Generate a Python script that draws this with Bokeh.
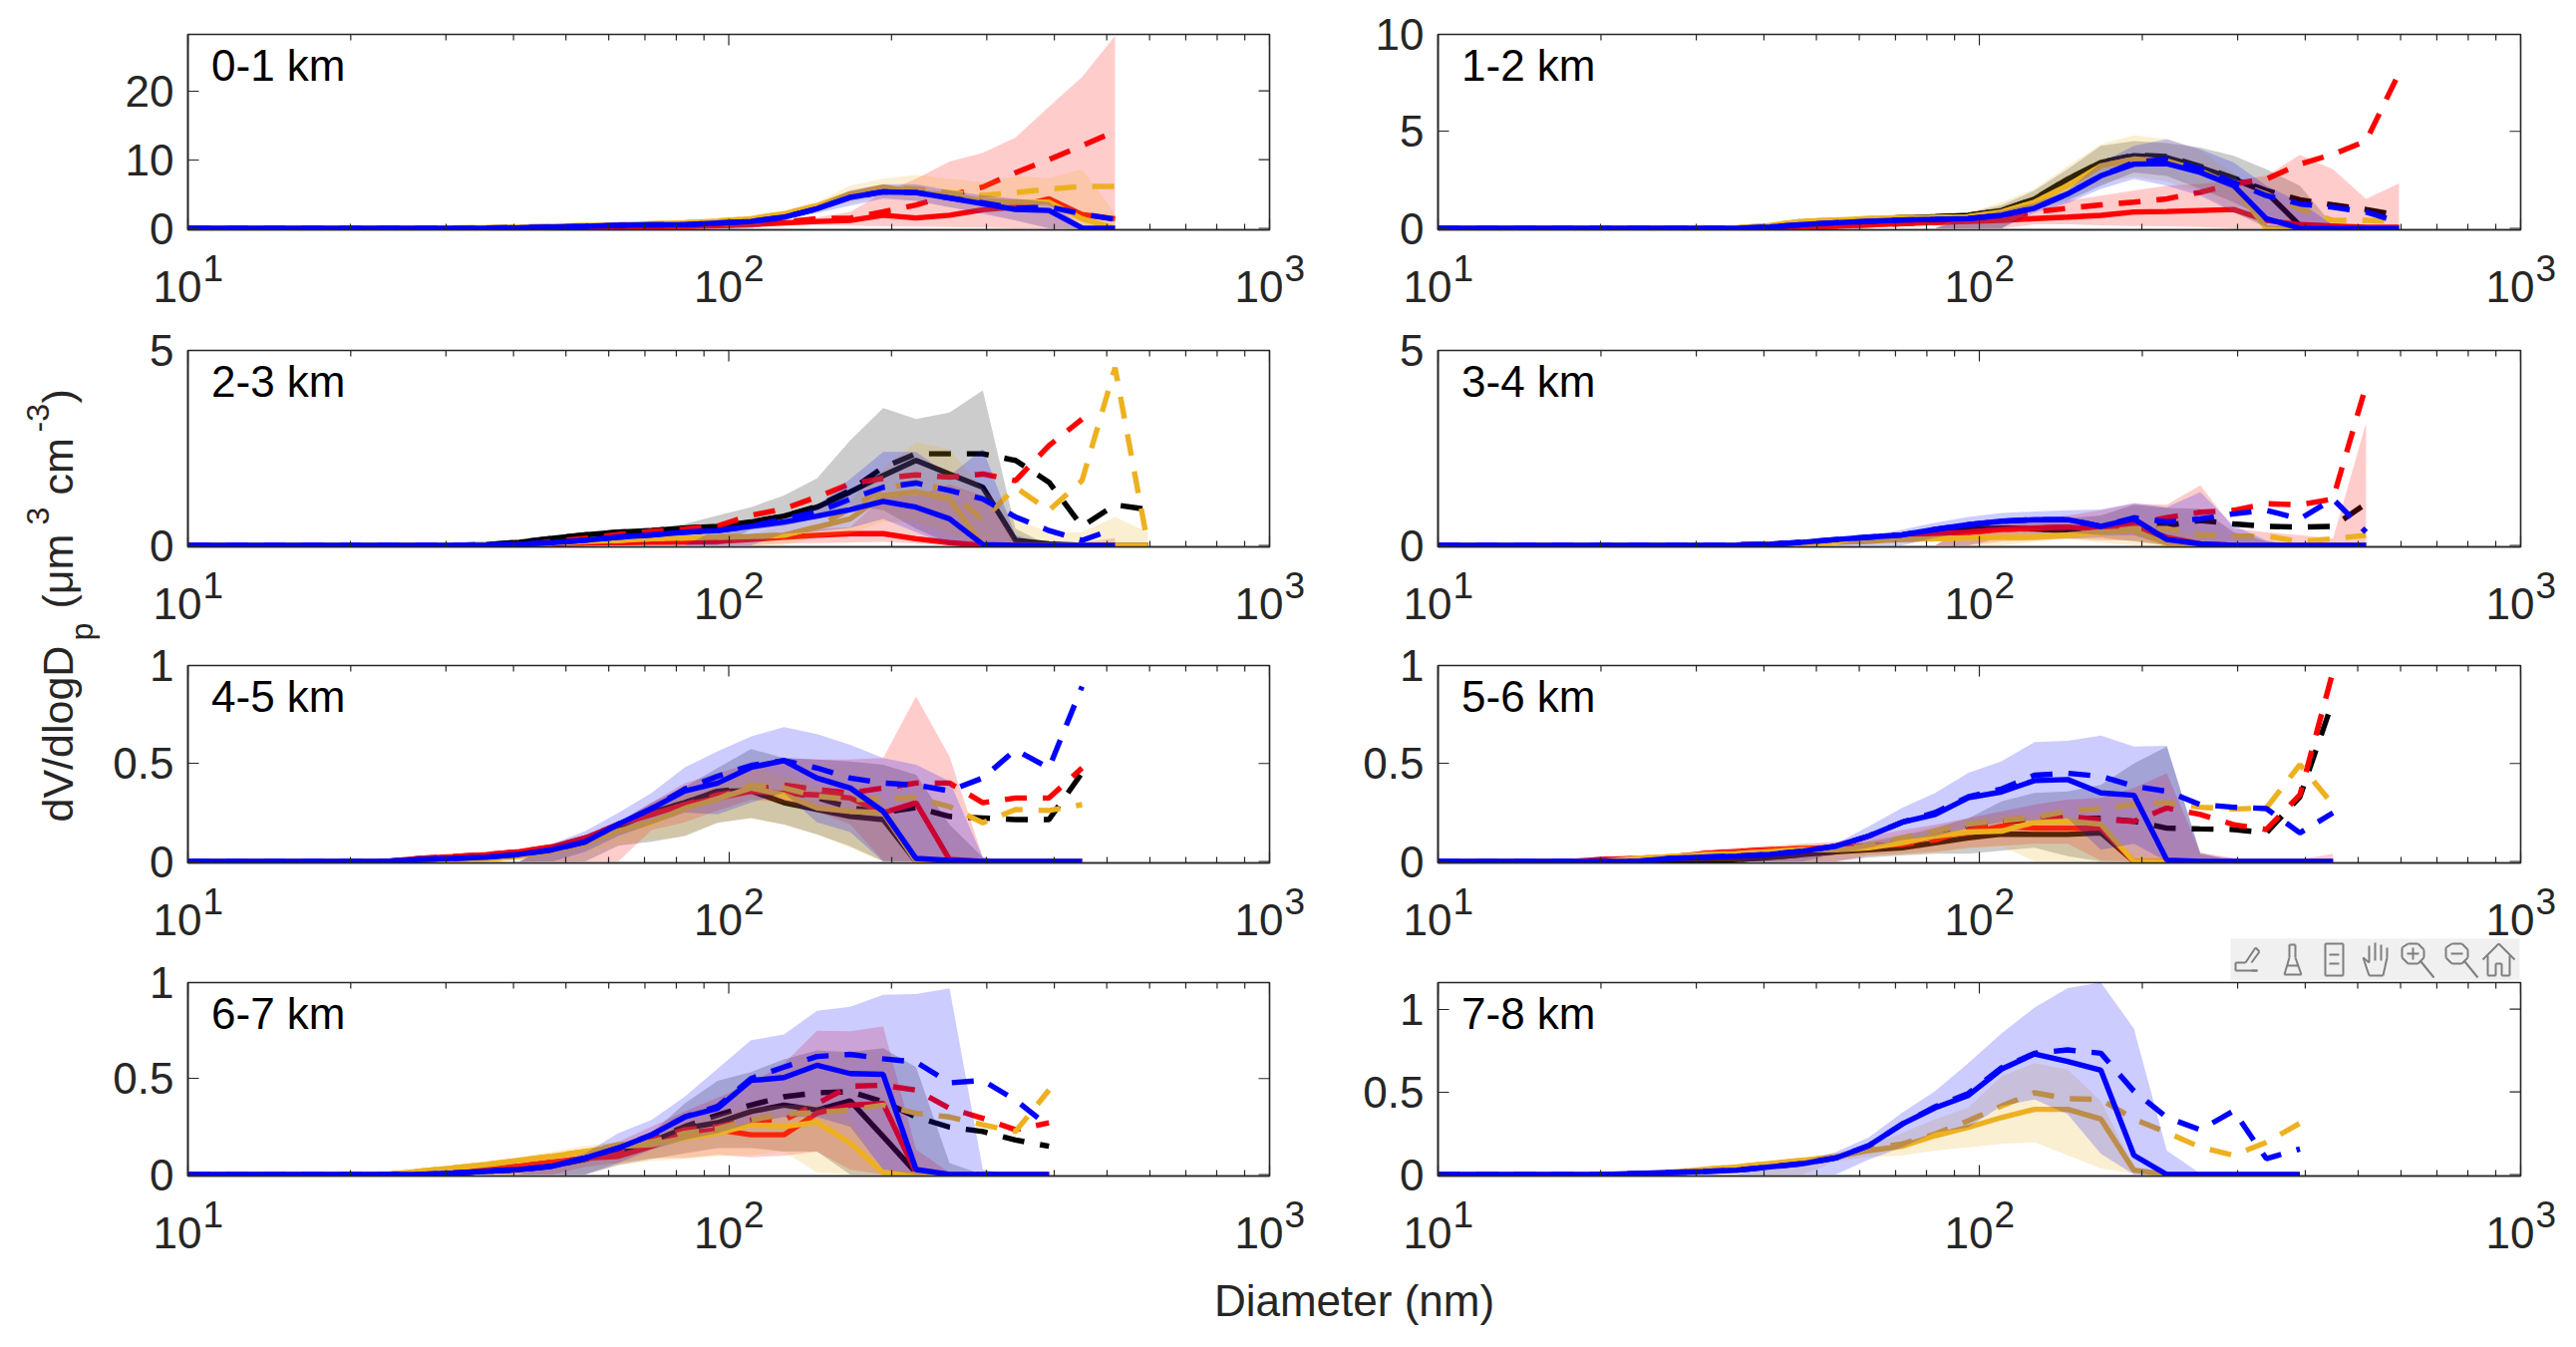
import math
from bokeh.plotting import figure
from bokeh.layouts import row, column
from bokeh.models import Label, FixedTicker, Range1d
from bokeh.core.properties import value
from bokeh.embed import file_html
from bokeh.resources import INLINE

# Diameter bins (nm)
D = [10, 11.5, 13.2, 15.2, 17.6, 20.2, 23.3, 26.8, 30.9, 35.6, 41, 47.2, 54.3, 62.5, 72,
     82.9, 95.4, 109.9, 126.5, 145.6, 167.7, 193, 222, 256, 295, 339, 391, 450, 518, 596]
X_MAJOR = [10, 100, 1000]
X_EXP = ["1", "2", "3"]
X_MINOR = [20, 30, 40, 50, 60, 70, 80, 90, 200, 300, 400, 500, 600, 700, 800, 900]

# each series: (index of the first listed bin, values); unlisted bins read 0
# ---- 0-1 km
a_blue_s = (9, [.03, .08, .2, .3, .43, .5, .53, .77, 1, 1.63, 2.84, 4.5, 5.3, 5.2, 4.4, 3.56, 2.74, 2.6, .05, 0])
a_blue_d = (9, [.03, .08, .2, .3, .43, .5, .53, .77, 1, 1.63, 2.84, 4.5, 5.3, 5.2, 4.4, 3.7, 2.9, 3.1, 2.1, 1.3])
a_blue_h = (17, [1.1, 2, 3.3, 5.5, 6.4, 6.4, 5.5, 4.8, 4.3, 3.8, .4, 0])
a_blue_l = (18, [1.2, 2.2, 3.3, 4.3, 4, 3.1, 2.1, 1.15, 0, 0, 0])
a_red_s = (13, [.1, .2, .3, .4, .53, .8, 1, 1.15, 1.9, 1.5, 1.9, 2.7, 3.1, 4.3, 2, 1.4])
a_red_d = (13, [.1, .2, .3, .45, .6, .9, 1.4, 1.5, 2.4, 3.4, 4.8, 6, 8.1, 10, 12, 14.1])
a_red_h = (17, [.7, 1.1, 1.6, 2.4, 5.2, 7.2, 9.7, 11, 13.2, 17.7, 22, 28])
a_red_l = (17, [.3, .4, .5, .4, .3, .25, .2, .1, 0, 0, 0, 0])
a_amb_s = (8, [.05, .1, .2, .3, .4, .5, .65, .8, 1.05, 1.4, 2.1, 3.3, 5, 6, 5.3, 4.8, 4, 3.8, 3.8, 1.4, 0])
a_amb_d = (8, [.05, .1, .2, .3, .4, .5, .65, .8, 1.05, 1.4, 2.1, 3.3, 5, 5.9, 5.7, 5.2, 4.8, 5.2, 5.7, 6.1, 6.1])
a_amb_h = (17, [1.6, 2.6, 3.8, 6.2, 7.2, 7.8, 7.2, 6.7, 7.6, 7.3, 8.6, 2.1])
a_amb_l = (18, [1.6, 2.8, 3.8, 4.5, 4, 3.1, 2.4, 1.15, 0, 0, 0])
# ---- 1-2 km
b_blk_s = (9, [.02, .1, .25, .36, .45, .55, .6, .67, .92, 1.52, 2.54, 3.4, 3.74, 3.65, 3.14, 2.54, 1.86, .15, 0, 0, 0])
b_blk_d = (9, [.02, .1, .25, .36, .45, .55, .6, .67, .92, 1.52, 2.54, 3.4, 3.78, 3.7, 3.2, 2.6, 1.95, 1.47, 1.21, .97, .67])
b_blk_h = (16, [.8, 1.2, 1.95, 3.05, 4.25, 4.5, 4.4, 4.16, 3.74, 3.05, 2.2, .15, 0, 0])
b_blk_l = (18, [1.0, 1.43, 2.2, 2.88, 2.7, 2.03, 1.35, .5, 0, 0, 0, 0])
b_red_s = (10, [.03, .07, .12, .18, .24, .3, .36, .41, .5, .58, .67, .84, .87, .92, .97, .41, .19, .12, .05, .05])
b_red_d = (10, [.03, .07, .12, .18, .24, .3, .38, .55, .84, 1.04, 1.21, 1.35, 1.52, 1.86, 2.29, 2.54, 3.31, 3.82, 4.5, 8.0])
b_red_h = (16, [.5, .7, 1.0, 1.43, 1.69, 1.95, 2.2, 2.29, 2.46, 2.71, 3.79, 3.05, 1.52, 2.32])
b_red_l = (18, [.2, .2, .15, .12, .1, .07, 0, 0, 0, 0, 0, 0])
b_amb_s = (9, [.03, .15, .36, .43, .5, .55, .55, .6, .84, 1.35, 2.2, 3.22, 3.57, 3.48, 2.97, 2.2, 0, 0, 0, 0, 0])
b_amb_d = (9, [.03, .15, .36, .43, .5, .55, .55, .6, .84, 1.35, 2.2, 3.22, 3.57, 3.48, 2.97, 2.37, 1.77, 1.0, .41, .41, .36])
b_amb_h = (16, [.8, 1.35, 2.03, 3.22, 4.33, 4.8, 4.6, 4.0, 2.88, .05, 0, 0, 0, 0])
b_amb_l = (18, [1.0, 1.69, 2.37, 2.66, 2.4, 1.86, .84, 0, 0, 0, 0, 0])
b_blue_s = (10, [.07, .19, .29, .36, .43, .46, .5, .67, 1.04, 1.77, 2.71, 3.31, 3.34, 2.88, 2.2, .5, 0, 0, 0, 0])
b_blue_d = (10, [.07, .19, .29, .36, .43, .46, .5, .67, 1.04, 1.77, 2.71, 3.4, 3.57, 3.05, 2.37, 1.69, 1.26, 1.09, .84, .32])
b_blue_h = (16, [.6, .9, 1.3, 1.95, 3.4, 4.25, 4.6, 4.08, 3.4, 2.2, 1.35, .15, 0, 0])
b_blue_l = (18, [.8, 1.3, 2.03, 2.54, 2.2, 1.69, .84, .07, 0, 0, 0, 0])
# ---- 2-3 km
c_blk_s = (9, [.02, .08, .18, .27, .34, .38, .44, .49, .6, .75, .98, 1.37, 1.79, 2.18, 1.83, 1.49, .13, .04, 0, 0, 0])
c_blk_d = (9, [.02, .08, .18, .27, .34, .38, .44, .49, .6, .75, 1.0, 1.41, 2.0, 2.35, 2.35, 2.35, 2.18, 1.62, .49, 1.04, .92])
c_blk_h = (11, [.1, .18, .3, .42, .55, .77, .98, 1.28, 1.72, 2.69, 3.52, 3.24, 3.41, 3.98, .43, 0, 0, 0, 0])
c_blk_l = (17, [.4, .5, .7, 1.02, .9, .43, .05, 0, 0, 0, 0, 0, 0])
c_red_s = (10, [.02, .04, .06, .07, .08, .09, .1, .15, .21, .26, .3, .3, .17, .07, 0, 0, 0, 0, 0])
c_red_d = (11, [.1, .18, .28, .36, .42, .5, .77, .94, 1.24, 1.58, 1.72, 1.81, 1.75, 1.83, 1.66, 2.56, 3.24])
c_red_h = (15, [.1, .15, .2, .34, .43, .47, 1.24, 1.28, 1.56, 1.28, .13, .07, .07, .19])
c_red_l = (18, [.05, .06, .07, .09, .05, 0, 0, 0, 0, 0, 0])
c_amb_s = (11, [.06, .1, .13, .17, .19, .21, .23, .26, .47, .68, 1.28, 1.37, 1.19, 0, 0, 0, 0, 0, 0])
c_amb_d = (11, [.06, .1, .13, .17, .19, .21, .23, .26, .47, .94, 1.45, 1.62, 1.41, .64, 1.49, .9, 1.66, 4.56, 0])
c_amb_h = (17, [.3, .5, .85, 1.15, 1.96, 2.65, 2.46, 1.45, .68, .34, .34, .73, .34])
c_amb_l = (19, [.2, .3, .6, .6, .3, 0, 0, 0, 0, 0, 0])
c_blue_s = (9, [.01, .03, .07, .13, .21, .27, .34, .38, .49, .6, .75, .92, 1.13, .98, .68, .02, 0, 0, 0, 0])
c_blue_d = (9, [.01, .03, .07, .13, .21, .27, .34, .38, .49, .68, .85, 1.19, 1.49, 1.6, 1.41, 1.19, .73, .38, .13, .43])
c_blue_h = (16, [.42, .55, .7, 1.02, 1.7, 2.4, 2.4, 1.79, 2.47, .26, 0, 0, 0])
c_blue_l = (18, [.3, .35, .45, .68, .34, 0, 0, 0, 0, 0, 0])
# ---- 3-4 km
d_blk_s = (9, [.01, .03, .07, .13, .2, .26, .33, .41, .44, .42, .38, .38, .47, .13, 0, 0, 0, 0, 0, 0])
d_blk_d = (9, [.01, .03, .07, .13, .2, .26, .33, .41, .44, .42, .38, .38, .47, .51, .64, .55, .49, .47, .49, 1.07])
d_blk_h = (16, [.5, .6, .66, .7, .77, 1.04, .96, .94, .34, .1, 0, 0, 0, .2])
d_blk_l = (17, [.2, .17, .17, .2, .1, 0, 0, 0, 0, 0, 0, 0])
d_red_s = (9, [.01, .03, .07, .13, .2, .26, .3, .34, .41, .44, .47, .41, .51, .21, .04, 0, 0, 0, 0, 0])
d_red_d = (9, [.01, .03, .07, .13, .2, .26, .3, .34, .41, .44, .47, .41, .55, .71, .85, .9, 1.07, 1.04, 1.19, 4.1])
d_red_h = (16, [.5, .6, .65, .77, .9, 1.07, 1.04, 1.54, .43, .34, .26, .17, 3.14])
d_red_l = (17, [.1, .13, .17, .13, .13, 0, 0, 0, 0, 0, 0, 0])
d_amb_s = (9, [.01, .02, .05, .08, .11, .15, .17, .19, .21, .21, .27, .34, .38, .04, 0, 0, 0, 0, 0, 0])
d_amb_d = (9, [.01, .02, .05, .08, .11, .15, .17, .19, .21, .21, .27, .34, .43, .43, .27, .24, .24, .1, .17, .26])
d_amb_h = (17, [.25, .3, .34, .43, .55, .51, .16, 0, 0, 0, 0, 0])
d_amb_l = (18, [.09, .17, .07, 0, 0, 0, 0, 0, 0, 0, 0])
d_blue_s = (9, [.01, .03, .08, .15, .21, .27, .41, .53, .62, .66, .66, .49, .68, .15, .04, 0, 0, 0, 0, 0])
d_blue_d = (9, [.01, .03, .08, .15, .21, .27, .41, .53, .62, .66, .66, .49, .71, .6, .68, .81, .9, .68, 1.19, .34])
d_blue_h = (13, [.25, .4, .58, .73, .83, .87, .9, .92, 1.09, .98, 1.37, .51, .13, 0, 0, 0])
d_blue_l = (15, [.2, .34, .43, .43, .34, .26, .26, 0, 0, 0, 0, 0, 0, 0])
# ---- 4-5 km
e_blk_s = (8, [.01, .02, .04, .06, .1, .18, .25, .3, .358, .36, .3, .265, .23, .214, 0, 0, 0, 0, 0, 0])
e_blk_d = (8, [.01, .02, .04, .06, .1, .18, .25, .3, .358, .375, .36, .325, .275, .25, .275, .23, .222, .214, .214, .452])
e_blk_h = (11, [.07, .12, .2, .3, .38, .477, .574, .528, .52, .51, .494, .443, .188, .02, 0, 0, 0])
e_blk_l = (13, [.08, .1, .13, .197, .222, .188, .137, .078, 0, 0, 0, 0, 0, 0, 0])
e_red_s = (7, [.015, .025, .035, .05, .075, .12, .19, .24, .29, .324, .358, .346, .34, .324, .248, .3, .01, 0, 0, 0, 0])
e_red_d = (7, [.015, .025, .035, .05, .075, .12, .19, .24, .29, .34, .366, .39, .366, .35, .375, .40, .40, .3, .324, .324, .477])
e_red_h = (11, [.08, .13, .2, .3, .4, .45, .5, .528, .52, .52, .528, .842, .536, .02, 0, 0, 0])
e_red_l = (14, [.16, .2, .26, .316, .3, .256, .19, .005, 0, 0, 0, 0, 0, 0])
e_amb_s = (9, [.012, .025, .05, .09, .155, .2, .27, .32, .375, .34, .273, .256, .248, 0, 0, 0, 0, 0, 0])
e_amb_d = (9, [.012, .025, .05, .09, .155, .2, .27, .32, .39, .375, .333, .316, .32, .325, .28, .197, .265, .26, .29])
e_amb_h = (11, [.06, .11, .2, .28, .35, .42, .48, .44, .38, .35, .33, .01, 0, 0, 0, 0, 0])
e_amb_l = (12, [.05, .09, .11, .13, .2, .22, .19, .14, .07, 0, 0, 0, 0, 0, 0, 0])
e_blue_s = (7, [.01, .015, .022, .036, .06, .10, .19, .27, .36, .40, .48, .515, .426, .375, .256, .015, .005, 0, 0, 0, 0])
e_blue_d = (7, [.01, .015, .022, .036, .06, .10, .19, .27, .37, .435, .49, .515, .477, .426, .40, .39, .36, .426, .57, .477, .893])
e_blue_h = (11, [.09, .155, .248, .35, .48, .562, .638, .686, .65, .596, .528, .494, .41, .02, 0, 0, 0])
e_blue_l = (12, [.05, .13, .19, .25, .24, .30, .35, .2, .15, 0, 0, 0, 0, 0, 0, 0])
# ---- 5-6 km
f_blk_s = (9, [.01, .02, .035, .05, .06, .07, .095, .12, .14, .138, .138, .146, 0, 0, 0, 0, 0, 0, 0])
f_blk_d = (9, [.01, .02, .035, .05, .07, .1, .13, .17, .2, .215, .22, .22, .205, .17, .166, .163, .146, .33, .82])
f_blk_h = (9, [.02, .04, .06, .08, .1, .13, .17, .22, .307, .35, .358, .39, .5, .587, .044, 0, 0, 0, 0])
f_blk_l = (13, [.02, .03, .04, .04, .055, .07, .027, 0, 0, 0, 0, 0, 0, 0, 0])
f_red_s = (5, [.01, .015, .022, .04, .05, .06, .066, .07, .078, .087, .13, .146, .18, .17, .17, .17, 0, 0, 0, 0, 0, 0, 0])
f_red_d = (5, [.01, .015, .022, .04, .05, .06, .066, .07, .078, .087, .11, .16, .205, .22, .23, .214, .205, .273, .24, .188, .163, .34, .97])
f_red_h = (8, [.06, .07, .08, .09, .10, .13, .16, .188, .222, .256, .29, .315, .324, .375, .45, .044, .018, .01, .01, .04])
f_red_l = (13, [.03, .04, .05, .07, .08, .09, .09, .005, 0, 0, 0, 0, 0, 0, 0])
f_amb_s = (6, [.015, .025, .035, .04, .05, .06, .06, .07, .095, .13, .15, .155, .2, .205, .19, 0, 0, 0, 0, 0, 0, 0])
f_amb_d = (6, [.015, .025, .035, .04, .05, .06, .06, .08, .12, .155, .19, .21, .226, .256, .27, .29, .3, .277, .268, .273, .494, .29])
f_amb_h = (6, [.02, .03, .05, .06, .07, .09, .09, .11, .14, .18, .222, .24, .24, .23, .205, 0, 0, 0, 0, 0, 0, 0])
f_amb_l = (12, [.03, .03, .035, .044, .065, .078, 0, 0, 0, 0, 0, 0, 0, 0, 0, 0])
f_blue_s = (7, [.015, .022, .027, .036, .053, .078, .13, .2, .24, .325, .355, .413, .418, .35, .338, .007, 0, 0, 0, 0, 0])
f_blue_d = (7, [.015, .022, .027, .036, .053, .078, .13, .2, .25, .33, .37, .44, .45, .435, .384, .358, .29, .277, .27, .146, .248])
f_blue_h = (10, [.04, .06, .09, .18, .273, .35, .452, .511, .61, .616, .643, .587, .59, .036, .015, 0, 0, 0])
f_blue_l = (12, [.04, .07, .11, .13, .17, .2, .21, .22, .06, .09, 0, 0, 0, 0, 0, 0])
# ---- 6-7 km
g_blk_s = (8, [.008, .017, .026, .045, .08, .12, .172, .241, .27, .328, .362, .336, .384, .198, .01, 0, 0, 0, 0])
g_blk_d = (8, [.008, .017, .026, .045, .08, .12, .18, .25, .31, .362, .405, .426, .431, .38, .30, .247, .224, .18, .147])
g_blk_h = (10, [.03, .06, .1, .155, .216, .37, .488, .534, .6, .647, .638, .659, .56, .06, 0, 0, 0])
g_blk_l = (13, [.05, .08, .11, .138, .138, .12, .12, 0, 0, 0, 0, 0, 0, 0])
g_red_s = (7, [.01, .017, .03, .045, .065, .085, .095, .147, .216, .233, .207, .207, .32, .362, .37, .01, 0, 0, 0, 0])
g_red_d = (7, [.01, .017, .03, .045, .065, .085, .105, .18, .233, .25, .284, .284, .37, .46, .465, .44, .345, .293, .233, .27])
g_red_h = (8, [.02, .04, .06, .09, .12, .17, .25, .328, .4, .474, .578, .75, .747, .772, .13, .01, 0, 0, 0])
g_red_l = (12, [.04, .06, .086, .086, .103, .09, .098, .12, .026, 0, 0, 0, 0, 0, 0])
g_amb_s = (7, [.017, .034, .052, .074, .095, .12, .147, .155, .19, .215, .259, .25, .272, .164, .01, 0, 0, 0, 0, 0])
g_amb_d = (7, [.017, .034, .052, .074, .095, .12, .155, .17, .215, .24, .284, .315, .322, .336, .362, .319, .30, .259, .224, .44])
g_amb_h = (7, [.03, .05, .07, .09, .12, .15, .17, .2, .27, .31, .35, .36, .37, .29, .02, 0, 0, 0, 0, 0])
g_amb_l = (13, [.05, .07, .08, .095, .103, .12, .01, 0, 0, 0, 0, 0, 0, 0])
g_blue_s = (8, [.008, .017, .026, .043, .086, .138, .207, .30, .345, .49, .505, .569, .526, .522, .026, 0, 0, 0, 0])
g_blue_d = (8, [.008, .017, .026, .043, .086, .138, .207, .30, .355, .50, .56, .615, .626, .603, .586, .478, .49, .388, .25])
g_blue_h = (11, [.06, .11, .216, .284, .405, .552, .70, .73, .853, .874, .936, .94, .97, .026, 0, 0])
g_blue_l = (13, [.06, .13, .18, .215, .267, .3, .3, .25, .026, 0, 0, 0, 0, 0])
# ---- 7-8 km
h_amb_s = (6, [.005, .012, .03, .046, .066, .086, .106, .145, .171, .235, .285, .345, .394, .394, .335, .026, 0, 0, 0, 0, 0])
h_amb_d = (6, [.005, .012, .03, .046, .066, .086, .106, .155, .185, .245, .325, .414, .494, .458, .454, .335, .255, .165, .116, .195, .31])
h_amb_h = (9, [.04, .07, .1, .13, .18, .25, .335, .404, .594, .673, .634, .444, .036, 0, 0, 0, 0, 0])
h_amb_l = (12, [.08, .106, .115, .145, .165, .185, .195, .116, .036, .004, 0, 0, 0, 0, 0])
h_blue_s = (6, [.006, .012, .018, .026, .046, .066, .1, .175, .305, .404, .478, .637, .729, .683, .63, .116, 0, 0, 0, 0, 0])
h_blue_d = (6, [.006, .012, .018, .026, .046, .066, .1, .175, .305, .41, .49, .645, .733, .753, .733, .504, .345, .27, .385, .096, .155])
h_blue_h = (10, [.05, .08, .135, .225, .374, .504, .673, .853, 1.01, 1.127, 1.16, .882, .145, .006, 0, 0, 0])
h_blue_l = (13, [.09, .165, .255, .285, .414, .454, .365, .125, 0, 0, 0, 0, 0, 0])

PANELS = [
    ("0-1 km", [0, 10, 20], 28.2, [("#ff0000", (a_red_s, a_red_d, a_red_h, a_red_l, 28, 28)),
        ("#edb120", (a_amb_s, a_amb_d, a_amb_h, a_amb_l, 28, 28)), ("#0000ff", (a_blue_s, a_blue_d, a_blue_h, a_blue_l, 28, 28))]),
    ("1-2 km", [0, 5, 10], 10, [("#000000", (b_blk_s, b_blk_d, b_blk_h, b_blk_l, 29, 29)), ("#ff0000", (b_red_s, b_red_d, b_red_h, b_red_l, 29, 29)),
        ("#edb120", (b_amb_s, b_amb_d, b_amb_h, b_amb_l, 29, 29)), ("#0000ff", (b_blue_s, b_blue_d, b_blue_h, b_blue_l, 29, 29))]),
    ("2-3 km", [0, 5], 5, [("#000000", (c_blk_s, c_blk_d, c_blk_h, c_blk_l, 29, 29)), ("#ff0000", (c_red_s, c_red_d, c_red_h, c_red_l, 28, 27)),
        ("#edb120", (c_amb_s, c_amb_d, c_amb_h, c_amb_l, 29, 29)), ("#0000ff", (c_blue_s, c_blue_d, c_blue_h, c_blue_l, 28, 28))]),
    ("3-4 km", [0, 5], 5, [("#000000", (d_blk_s, d_blk_d, d_blk_h, d_blk_l, 28, 28)), ("#ff0000", (d_red_s, d_red_d, d_red_h, d_red_l, 28, 28)),
        ("#edb120", (d_amb_s, d_amb_d, d_amb_h, d_amb_l, 28, 28)), ("#0000ff", (d_blue_s, d_blue_d, d_blue_h, d_blue_l, 28, 28))]),
    ("4-5 km", [0, .5, 1], 1, [("#000000", (e_blk_s, e_blk_d, e_blk_h, e_blk_l, 27, 27)), ("#ff0000", (e_red_s, e_red_d, e_red_h, e_red_l, 27, 27)),
        ("#edb120", (e_amb_s, e_amb_d, e_amb_h, e_amb_l, 27, 27)), ("#0000ff", (e_blue_s, e_blue_d, e_blue_h, e_blue_l, 27, 27))]),
    ("5-6 km", [0, .5, 1], 1, [("#000000", (f_blk_s, f_blk_d, f_blk_h, f_blk_l, 27, 27)), ("#ff0000", (f_red_s, f_red_d, f_red_h, f_red_l, 27, 27)),
        ("#edb120", (f_amb_s, f_amb_d, f_amb_h, f_amb_l, 27, 27)), ("#0000ff", (f_blue_s, f_blue_d, f_blue_h, f_blue_l, 27, 27))]),
    ("6-7 km", [0, .5, 1], 1, [("#000000", (g_blk_s, g_blk_d, g_blk_h, g_blk_l, 26, 26)), ("#ff0000", (g_red_s, g_red_d, g_red_h, g_red_l, 26, 26)),
        ("#edb120", (g_amb_s, g_amb_d, g_amb_h, g_amb_l, 26, 26)), ("#0000ff", (g_blue_s, g_blue_d, g_blue_h, g_blue_l, 26, 26))]),
    ("7-8 km", [0, .5, 1], 1.16, [("#edb120", (h_amb_s, h_amb_d, h_amb_h, h_amb_l, 26, 26)), ("#0000ff", (h_blue_s, h_blue_d, h_blue_h, h_blue_l, 26, 26))]),
]

FONT = "Liberation Sans"
INK = "#262626"


def full(series, end):
    start, vals = series
    out = [0.0] * (end + 1)
    for k, v in enumerate(vals):
        if start + k <= end:
            out[start + k] = v
    return out


def panel(spec, fw, fh, left, right, top, bottom):
    name, yticks, ytop, groups = spec
    ystart = -1.5 * ytop / fh
    span = ytop - ystart
    p = figure(x_axis_type="log", x_range=Range1d(10, 1000), y_range=Range1d(ystart, ytop),
               frame_width=fw, frame_height=fh, min_border_left=left, min_border_right=right,
               min_border_top=top, min_border_bottom=bottom, output_backend="svg",
               toolbar_location=None, background_fill_color="white", border_fill_color=None)
    p.grid.visible = False
    p.outline_line_color = INK
    p.outline_line_width = 1.6
    for ax in (p.xaxis[0], p.yaxis[0]):
        ax.axis_line_color = INK
        ax.axis_line_width = 1.6
        ax.major_tick_line_color = INK
        ax.minor_tick_line_color = INK
        ax.major_tick_line_width = 1.2
        ax.minor_tick_line_width = 1.2
        ax.major_tick_in = 11
        ax.major_tick_out = 0
        ax.minor_tick_in = 6
        ax.minor_tick_out = 0
        ax.major_label_text_font = FONT
        ax.major_label_text_color = INK
        ax.major_label_text_font_size = "44px"
    xa, ya = p.xaxis[0], p.yaxis[0]
    xa.ticker = FixedTicker(ticks=X_MAJOR, minor_ticks=X_MINOR)
    # the labels of this axis are drawn with their raised exponents in the strip under the panel
    xa.major_label_overrides = {t: "" for t in X_MAJOR}
    xa.major_label_text_font_size = "1px"
    xa.major_label_standoff = 0
    ya.major_label_standoff = 14
    ya.ticker = FixedTicker(ticks=yticks)
    ya.major_label_overrides = {t: (str(int(t)) if float(t).is_integer() else str(t)) for t in yticks}
    ya.minor_tick_line_color = None

    # inward ticks of the top and right edges of the box
    dy_maj = 11 / fh * span
    dy_min = 6 / fh * span
    rx = 1000 * 10 ** (-2 * 11 / fw)
    p.segment(x0=X_MAJOR, x1=X_MAJOR, y0=[ytop] * len(X_MAJOR), y1=[ytop - dy_maj] * len(X_MAJOR), line_color=INK, line_width=1.2)
    p.segment(x0=X_MINOR, x1=X_MINOR, y0=[ytop] * len(X_MINOR), y1=[ytop - dy_min] * len(X_MINOR), line_color=INK, line_width=1.2)
    p.segment(x0=[1000] * len(yticks), x1=[rx] * len(yticks), y0=yticks, y1=yticks, line_color=INK, line_width=1.2)

    for color, g in groups:
        s, d, hi, lo, end_s, end_d = g
        h = full(hi, end_s)
        l = full(lo, end_s)
        p.varea(x=D[:end_s + 1], y1=l, y2=h, fill_color=color, fill_alpha=0.2)
        p.line(D[:end_s + 1], full(s, end_s), line_color=color, line_width=5.4)
        p.line(D[:end_d + 1], full(d, end_d), line_color=color, line_width=5.4, line_dash="22 16")

    p.add_layout(Label(x=11.05, y=ytop * (1 - 31 / fh), text=name, text_font=FONT, text_font_size="44px",
                       text_color="black", text_align="left", text_baseline="middle"))
    return p


def strip(x0, x1, y0, y1):
    """A text-only figure whose ranges are the page's own pixels."""
    f = figure(width=x1 - x0, height=y1 - y0, x_range=Range1d(x0, x1), y_range=Range1d(y1, y0),
               output_backend="svg", toolbar_location=None, min_border=0, outline_line_color=None,
               background_fill_color=None, border_fill_color=None)
    f.axis.visible = False
    f.grid.visible = False
    return f


BASELINE_DROP = 0.33   # the svg text sits this many em under the asked baseline


def put(f, x, y, s, px, angle=0.0, align="left", baseline="alphabetic"):
    if baseline == "alphabetic":
        if angle:
            x -= BASELINE_DROP * px
        else:
            y -= BASELINE_DROP * px
    f.text(x=[x], y=[y], text=[s], angle=angle, text_font=value(FONT), text_font_size=value(f"{px}px"),
           text_color=INK, text_align=align, text_baseline=baseline)


def tick_strip(x0, x1, y0, y1, frame_left, decade, axis_y):
    f = strip(x0, x1, y0, y1)
    for k, e in enumerate(X_EXP):
        t = frame_left + k * decade
        put(f, t - 35, axis_y + 73, "10", 44)
        put(f, t + 15, axis_y + 52, e, 37)
    return f


LEFT_FRAME = 188
RIGHT_FRAME = 1442
DEC_L = 542.5
DEC_R = 543.0
BELOW = 26   # room under each frame for the zero label of the y axis
RISE = 22    # how far each strip reaches up into that room
SINK = 30    # how far a strip reaches down into the room above the next panel

P = [panel(PANELS[0], 1085, 196, 78, 57, 34, BELOW),
     panel(PANELS[1], 1086, 196, 112, 48, 34, BELOW),
     panel(PANELS[2], 1085, 197, 78, 57, 41, BELOW),
     panel(PANELS[3], 1086, 197, 112, 48, 41, BELOW),
     panel(PANELS[4], 1085, 198, 78, 57, 42, BELOW),
     panel(PANELS[5], 1086, 198, 112, 48, 42, BELOW),
     panel(PANELS[6], 1085, 194, 78, 57, 40, BELOW),
     panel(PANELS[7], 1086, 194, 112, 48, 2, BELOW)]

S_L = [tick_strip(110, 1330, 234, 310 + SINK, LEFT_FRAME, DEC_L, 229),
       tick_strip(110, 1330, 552, 625 + SINK, LEFT_FRAME, DEC_L, 547),
       tick_strip(110, 1330, 869, 945 + SINK, LEFT_FRAME, DEC_L, 864),
       tick_strip(110, 1330, 1183, 1255 + SINK, LEFT_FRAME, DEC_L, 1178)]
S_R = [tick_strip(1330, 2576, 234, 310 + SINK, RIGHT_FRAME, DEC_R, 229),
       tick_strip(1330, 2576, 552, 625 + SINK, RIGHT_FRAME, DEC_R, 547),
       tick_strip(1330, 2576, 869, 983, RIGHT_FRAME, DEC_R, 864),
       tick_strip(1330, 2576, 1183, 1255 + SINK, RIGHT_FRAME, DEC_R, 1178)]

# the grey strip of the figure's axes toolbar above the last panel
bar = S_R[2]
bar.quad(left=[2237], right=[2527], top=[941], bottom=[983], fill_color="#f0f0f0", line_color=None)
ICON_OUTLINES = [
    [(2242, 973, 2242, 965), (2242, 965, 2252, 965), (2252, 965, 2262, 950), (2262, 950, 2266, 954), (2266, 954, 2258, 965), (2258, 973, 2264, 973), (2242, 973, 2264, 973)],
    [(2291, 977, 2296, 960), (2296, 960, 2296, 947), (2296, 947, 2302, 947), (2302, 947, 2302, 960), (2302, 960, 2308, 977), (2291, 977, 2308, 977), (2294, 968, 2305, 968)],
    [(2332, 946, 2350, 946), (2350, 946, 2350, 978), (2350, 978, 2332, 978), (2332, 978, 2332, 946), (2336, 957, 2346, 957), (2336, 966, 2346, 966)],
    [(2370, 960, 2376, 978), (2376, 978, 2390, 978), (2390, 978, 2394, 960), (2394, 960, 2394, 950), (2376, 948, 2376, 965), (2382, 945, 2382, 963), (2388, 947, 2388, 963), (2370, 960, 2376, 965)],
    [(2409, 950, 2415, 946), (2415, 946, 2425, 946), (2425, 946, 2431, 952), (2431, 952, 2431, 960), (2431, 960, 2425, 966), (2425, 966, 2415, 966), (2415, 966, 2409, 960), (2409, 960, 2409, 950), (2428, 964, 2441, 980), (2414, 956, 2426, 956), (2420, 950, 2420, 962)],
    [(2453, 950, 2459, 946), (2459, 946, 2469, 946), (2469, 946, 2475, 952), (2475, 952, 2475, 960), (2475, 960, 2469, 966), (2469, 966, 2459, 966), (2459, 966, 2453, 960), (2453, 960, 2453, 950), (2472, 964, 2485, 980), (2458, 956, 2470, 956)],
    [(2490, 962, 2506, 946), (2506, 946, 2522, 962), (2495, 958, 2495, 978), (2517, 958, 2517, 978), (2495, 978, 2503, 978), (2509, 978, 2517, 978), (2503, 978, 2503, 966), (2509, 978, 2509, 966), (2503, 966, 2509, 966)],
]
for icon in ICON_OUTLINES:
    bar.segment(x0=[a[0] for a in icon], y0=[a[1] for a in icon], x1=[a[2] for a in icon], y1=[a[3] for a in icon],
                line_color="#7f7f7f", line_width=2)

ylab = strip(0, 110, 0, 1335)
UP = math.pi / 2
put(ylab, 72, 824, "dV/dlogD", 43, angle=UP)
put(ylab, 92, 642, "p", 32, angle=UP)
put(ylab, 72, 610, "(\u03bcm", 43, angle=UP)
put(ylab, 48, 526, "3", 32, angle=UP)
put(ylab, 72, 496, "cm", 43, angle=UP)
put(ylab, 48, 433, "-3", 32, angle=UP)
put(ylab, 72, 404, ")", 43, angle=UP)

xlab = strip(110, 2576, 1255, 1335)
put(xlab, 1358, 1304, "Diameter (nm)", 44, align="center", baseline="middle")


def solo(f):
    return row(f, spacing=0)


def raised(f, sink=SINK):
    return row(f, spacing=0, margin=(-RISE, 0, -sink, 0))


left_col = column(solo(P[0]), raised(S_L[0]), solo(P[2]), raised(S_L[1]), solo(P[4]), raised(S_L[2]), solo(P[6]), raised(S_L[3]), spacing=0)
right_col = column(solo(P[1]), raised(S_R[0]), solo(P[3]), raised(S_R[1]), solo(P[5]), raised(S_R[2], sink=0), solo(P[7]), raised(S_R[3]), spacing=0)
page = row(ylab, column(row(left_col, right_col, spacing=0), xlab, spacing=0), spacing=0)
open("out.html", "w").write(file_html(page, INLINE))
